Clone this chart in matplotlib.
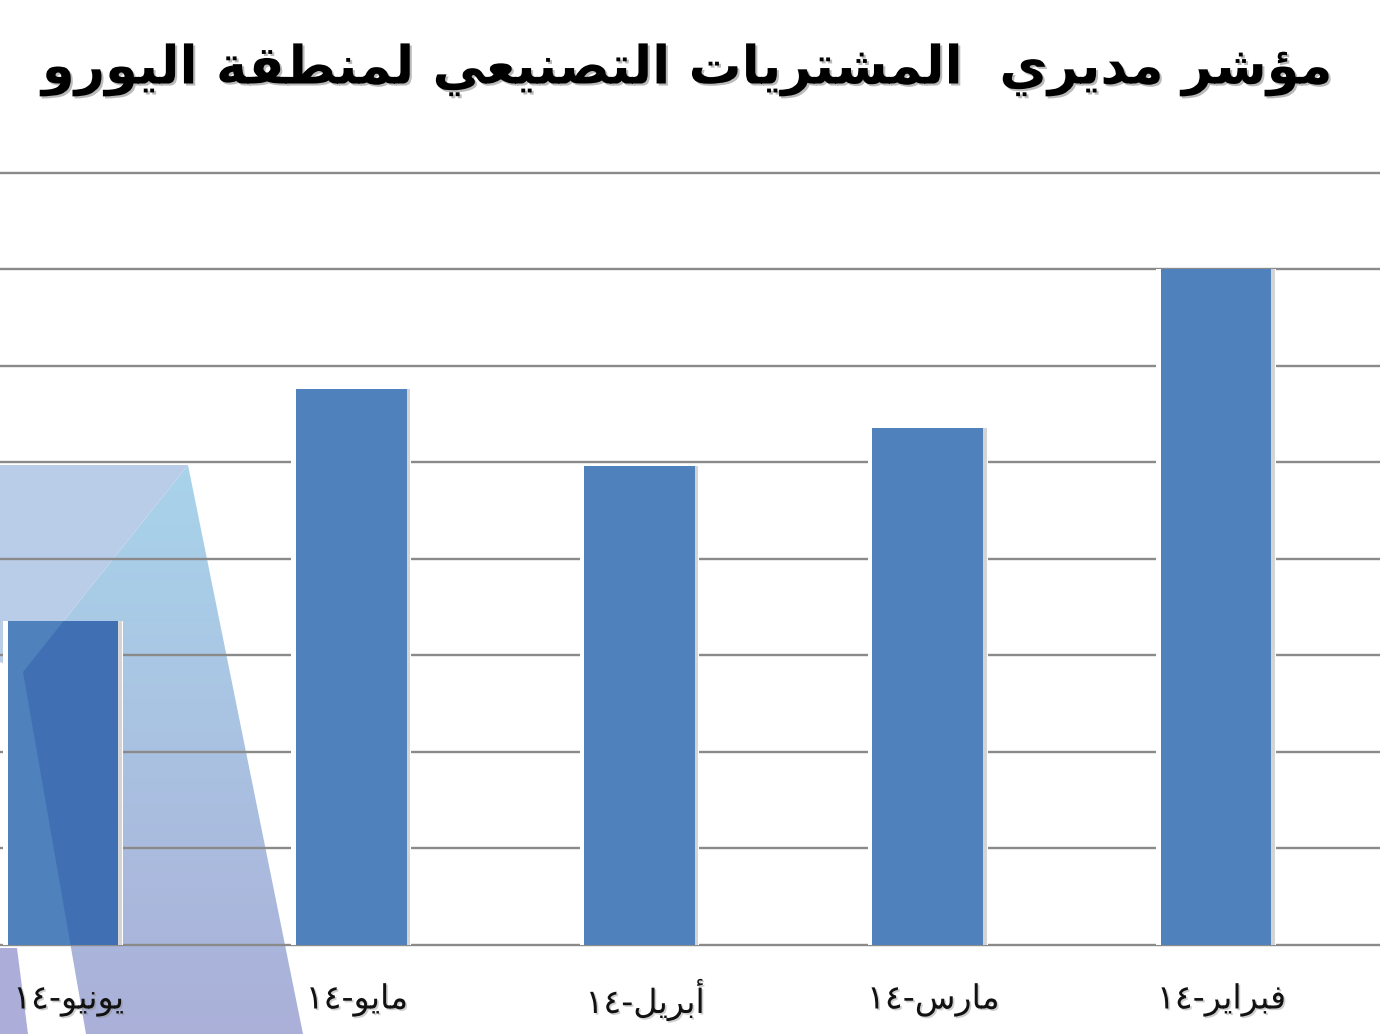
import numpy as np
import matplotlib
matplotlib.use("Agg")
import matplotlib.pyplot as plt
import matplotlib.patheffects as pe
from matplotlib.patches import Polygon
from matplotlib import transforms

plt.rcParams['font.family'] = ['DejaVu Sans']

# data (logical Arabic order, right to left on the chart)
title = "مؤشر مديري  المشتريات التصنيعي لمنطقة اليورو"
months = ["فبراير-١٤", "مارس-١٤", "أبريل-١٤", "مايو-١٤", "يونيو-١٤"]
pmi = [53.5, 52.68, 52.48, 52.88, 51.68]
y_ticks = [50.0, 50.5, 51.0, 51.5, 52.0, 52.5, 53.0, 53.5, 54.0]

# matplotlib has no Arabic shaping, so map letters to presentation forms
# (isolated, final, initial, medial) and reverse for display
FORMS = {
    'ا': (0xFE8D, 0xFE8E, None, None), 'أ': (0xFE83, 0xFE84, None, None),
    'ؤ': (0xFE85, 0xFE86, None, None), 'ب': (0xFE8F, 0xFE90, 0xFE91, 0xFE92),
    'ة': (0xFE93, 0xFE94, None, None), 'ت': (0xFE95, 0xFE96, 0xFE97, 0xFE98),
    'د': (0xFEA9, 0xFEAA, None, None), 'ر': (0xFEAD, 0xFEAE, None, None),
    'س': (0xFEB1, 0xFEB2, 0xFEB3, 0xFEB4), 'ش': (0xFEB5, 0xFEB6, 0xFEB7, 0xFEB8),
    'ص': (0xFEB9, 0xFEBA, 0xFEBB, 0xFEBC), 'ط': (0xFEC1, 0xFEC2, 0xFEC3, 0xFEC4),
    'ع': (0xFEC9, 0xFECA, 0xFECB, 0xFECC), 'ف': (0xFED1, 0xFED2, 0xFED3, 0xFED4),
    'ق': (0xFED5, 0xFED6, 0xFED7, 0xFED8), 'ل': (0xFEDD, 0xFEDE, 0xFEDF, 0xFEE0),
    'م': (0xFEE1, 0xFEE2, 0xFEE3, 0xFEE4), 'ن': (0xFEE5, 0xFEE6, 0xFEE7, 0xFEE8),
    'و': (0xFEED, 0xFEEE, None, None), 'ي': (0xFEF1, 0xFEF2, 0xFEF3, 0xFEF4),
}


def shape(word):
    out = []
    for i, ch in enumerate(word):
        f = FORMS.get(ch)
        if f is None:
            out.append(ch)
            continue
        prev = word[i - 1] if i > 0 else None
        nxt = word[i + 1] if i + 1 < len(word) else None
        jp = prev in FORMS and FORMS[prev][2] is not None
        jn = nxt in FORMS and f[2] is not None
        if jp and jn:
            c = f[3]
        elif jp:
            c = f[1]
        elif jn:
            c = f[2]
        else:
            c = f[0]
        out.append(chr(c))
    return ''.join(out)


def rtl(text):
    return shape(text)[::-1]


def month_label(s):
    name, yr = s.split('-')
    return yr + '-' + rtl(name)


W, H = 1380, 1034
fig = plt.figure(figsize=(W / 100, H / 100), dpi=100)

# background watermark (pixel coords, y down)
bg = fig.add_axes([0, 0, 1, 1], zorder=0)
bg.set_xlim(0, W)
bg.set_ylim(H, 0)
bg.axis('off')

grad = np.linspace(0, 1, 256)[:, None, None]
top_c = np.array([0.66, 0.83, 0.92])
bot_c = np.array([0.67, 0.69, 0.85])
img = top_c * (1 - grad) + bot_c * grad
right_pts = [(188, 465), (303, 1034), (86, 1034), (23, 672)]
right_poly = Polygon(right_pts, closed=True, facecolor='none', edgecolor='none')
bg.add_patch(right_poly)
im = bg.imshow(img, extent=(0, W, 1034, 465), aspect='auto', zorder=1)
im.set_clip_path(right_poly)
bg.add_patch(Polygon([(0, 465), (188, 465), (23, 672), (0, 662)],
                     closed=True, facecolor='#bacde8', edgecolor='none', zorder=1))
bg.add_patch(Polygon([(0, 948), (17, 948), (28, 1034), (0, 1034)],
                     closed=True, facecolor='#acaed9', edgecolor='none', zorder=1))

# main chart
y0, step_px = 945, 193.0   # baseline pixel, pixels per unit
lo, hi = 49.8, 54.3
ax_bot = 1 - (y0 + (50 - lo) * step_px) / H
ax_top = 1 - (y0 - (hi - 50) * step_px) / H
ax = fig.add_axes([0, ax_bot, 1, ax_top - ax_bot], zorder=1)
ax.set_facecolor('none')

pos = np.arange(len(months))
spacing = 288.25
xl = (1216 / spacing, (1216 - W) / spacing)   # inverted: Feb on the right

for v in y_ticks:
    ax.axhline(v, color='#8a8a8a', lw=1.7, zorder=0.5)

heights = np.array(pmi) - 50
width = 0.385
ax.bar(pos, heights, bottom=50, width=width + 0.03, color='white', zorder=1)
ax.bar(pos - 0.012, heights, bottom=50, width=width, color='#d4d4d4', zorder=1.5)
bars = ax.bar(pos, heights, bottom=50, width=width, color='#4f81bd', zorder=2)

# watermark tint over the June bar
tint = Polygon(right_pts, closed=True, facecolor='#1a3c9c', alpha=0.25,
               edgecolor='none', transform=bg.transData, zorder=3)
ax.add_patch(tint)
tint.set_clip_path(bars[4])
ax.set_xlim(*xl)
ax.set_ylim(lo, hi)

ax.set_xticks([])
ax.set_yticks([])
for s in ax.spines.values():
    s.set_visible(False)

shadow = [pe.withSimplePatchShadow(offset=(1.2, -1.2), shadow_rgbFace='#888888', alpha=0.4)]
btr = transforms.blended_transform_factory(ax.transData, fig.transFigure)
for p, m in zip(pos, months):
    ax.text(p - 0.02, 1 - 1000 / H, month_label(m), transform=btr,
            ha='center', va='center', fontsize=24, color='#111111',
            path_effects=shadow)

fig.text(687 / W, 1 - 70 / H, rtl(title), ha='center', va='center',
         fontsize=38, fontweight='bold', color='black',
         path_effects=[pe.withSimplePatchShadow(offset=(1.5, -1.5),
                                                shadow_rgbFace='#777777', alpha=0.5)])

fig.savefig('out.png', dpi=100)
